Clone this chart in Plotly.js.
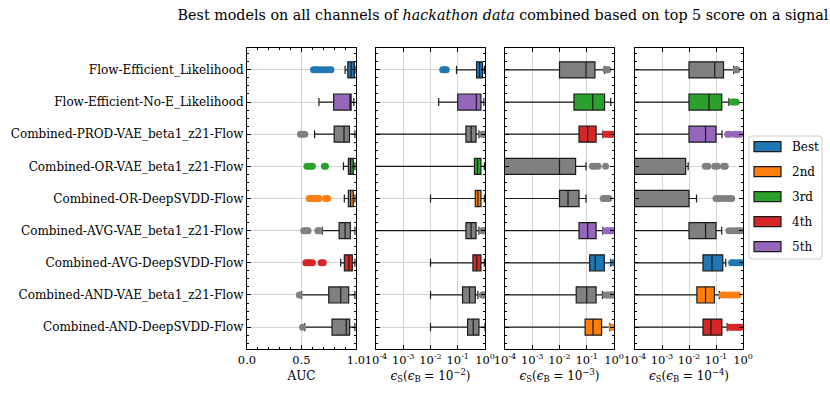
<!DOCTYPE html>
<html><head><meta charset="utf-8">
<script src="https://cdn.plot.ly/plotly-3.0.1.min.js"></script>
<style>html,body{margin:0;padding:0;background:#fff}#chart{width:830px;height:395px}</style>
</head><body><div id="chart"></div>
<script>
// ---------- data ----------
const models = [
  "Flow-Efficient_Likelihood",
  "Flow-Efficient-No-E_Likelihood",
  "Combined-PROD-VAE_beta1_z21-Flow",
  "Combined-OR-VAE_beta1_z21-Flow",
  "Combined-OR-DeepSVDD-Flow",
  "Combined-AVG-VAE_beta1_z21-Flow",
  "Combined-AVG-DeepSVDD-Flow",
  "Combined-AND-VAE_beta1_z21-Flow",
  "Combined-AND-DeepSVDD-Flow"
];
const rankNames = ["Best", "2nd", "3rd", "4th", "5th"];
const rankColors = ["#1f77b4", "#ff7f0e", "#2ca02c", "#d62728", "#9467bd"];
const otherColor = "#808080";

// rank index of each model in each panel (-1 = not in top 5)
const rankAUC = [0, 4, -1, 2, 1, -1, 3, -1, -1];
const rankE2  = [0, 4, -1, 2, 1, -1, 3, -1, -1];
const rankE3  = [-1, 2, 3, -1, -1, 4, 0, -1, 1];
const rankE4  = [-1, 2, 4, -1, -1, -1, 0, 1, 3];

// Panel 1: AUC
const aucLow  = [0.90, 0.66, 0.62, 0.885, 0.893, 0.69, 0.86, 0.50, 0.53];
const aucQ1   = [0.925, 0.795, 0.80, 0.93, 0.93, 0.845, 0.893, 0.75, 0.78];
const aucMed  = [0.955, 0.945, 0.89, 0.95, 0.95, 0.90, 0.935, 0.86, 0.91];
const aucQ3   = [0.985, 0.955, 0.94, 0.975, 0.975, 0.948, 0.966, 0.933, 0.942];
const aucHigh = [0.99, 0.98, 0.99, 0.99, 0.99, 0.99, 0.99, 0.99, 0.99];
const aucOut  = [
  [0.61, 0.63, 0.65, 0.68, 0.71, 0.74, 0.77], [], [0.49, 0.51, 0.53],
  [0.55, 0.57, 0.60, 0.71, 0.72], [0.57, 0.59, 0.61, 0.63, 0.66, 0.72, 0.74],
  [0.52, 0.54, 0.56, 0.65, 0.66], [0.54, 0.56, 0.58, 0.60, 0.68, 0.70], [0.48], [0.51]
];

// Panel 2: eps_S at eps_B = 1e-2
const e2Low  = [0.09, 0.02, 0, 0, 0.01, 0, 0.01, 0.01, 0.01];
const e2Q1   = [0.49, 0.10, 0.20, 0.41, 0.44, 0.20, 0.36, 0.15, 0.23];
const e2Med  = [0.63, 0.48, 0.31, 0.53, 0.55, 0.31, 0.50, 0.27, 0.37];
const e2Q3   = [0.81, 0.71, 0.47, 0.71, 0.71, 0.47, 0.71, 0.44, 0.60];
const e2High = [0.95, 0.91, 0.60, 0.95, 0.95, 0.60, 0.95, 0.55, 1.0];
const e2Out  = [[0.028, 0.033, 0.038], [], [0.8, 0.9, 1.0], [], [], [0.8, 0.9, 1.0], [], [0.8, 0.9, 1.0], []];

// Panel 3: eps_S at eps_B = 1e-3
const e3Low  = [0, 0, 0, 0, 0, 0, 0, 0, 0];
const e3Q1   = [0.01, 0.034, 0.052, 0, 0.01, 0.052, 0.128, 0.041, 0.087];
const e3Med  = [0.094, 0.166, 0.108, 0.01, 0.0205, 0.108, 0.204, 0.10, 0.17];
const e3Q3   = [0.20, 0.45, 0.22, 0.039, 0.052, 0.22, 0.44, 0.22, 0.35];
const e3High = [0.45, 0.76, 0.39, 0.094, 0.094, 0.39, 0.75, 0.38, 0.70];
const e3Out  = [
  [0.5, 0.55, 0.6], [], [0.5, 0.6, 0.7, 0.8, 0.9], [0.16, 0.2, 0.26, 0.49],
  [0.4, 0.48, 0.56, 0.65], [0.5, 0.6, 0.7, 0.8, 0.9], [0.95], [0.5, 0.6, 0.7, 0.8, 0.9], [0.85, 0.95]
];

// Panel 4: eps_S at eps_B = 1e-4
const e4Low  = [0, 0, 0, 0, 0, 0, 0, 0, 0];
const e4Q1   = [0.01, 0.01, 0.01, 0, 0, 0.01, 0.033, 0.0196, 0.033];
const e4Med  = [0.09, 0.055, 0.041, 0, 0, 0.041, 0.071, 0.041, 0.065];
const e4Q3   = [0.19, 0.163, 0.10, 0.0075, 0.01, 0.10, 0.178, 0.087, 0.165];
const e4High = [0.45, 0.30, 0.167, 0.0093, 0.019, 0.163, 0.23, 0.133, 0.26];
const e4Out  = [
  [0.55, 0.6], [0.4, 0.48, 0.56], [0.27, 0.33, 0.5, 0.62, 0.78], [0.04, 0.05, 0.09, 0.11, 0.19, 0.22],
  [0.1, 0.13, 0.17, 0.22, 0.3, 0.38], [0.3, 0.4, 0.55, 0.7, 0.85], [0.38, 0.45, 0.55, 0.7, 0.85],
  [0.17, 0.22, 0.3, 0.4, 0.5, 0.65], [0.33, 0.4, 0.5, 0.6, 0.7, 0.85]
];

const aucTickVals = [0, 0.5, 1];
const aucTickText = ["0.0", "0.5", "1.0"];
const logTickVals = [1e-4, 1e-3, 1e-2, 1e-1, 1];
const logTickText = ["10<sup>-4</sup>", "10<sup>-3</sup>", "10<sup>-2</sup>", "10<sup>-1</sup>", "10<sup>0</sup>"];

// ---------- build ----------
const FONT = "DejaVu Serif";
const panels = [
  {low: aucLow, q1: aucQ1, med: aucMed, q3: aucQ3, high: aucHigh, out: aucOut, rank: rankAUC, log: false},
  {low: e2Low, q1: e2Q1, med: e2Med, q3: e2Q3, high: e2High, out: e2Out, rank: rankE2, log: true},
  {low: e3Low, q1: e3Q1, med: e3Med, q3: e3Q3, high: e3High, out: e3Out, rank: rankE3, log: true},
  {low: e4Low, q1: e4Q1, med: e4Med, q3: e4Q3, high: e4High, out: e4Out, rank: rankE4, log: true}
];
const floorLog = v => Math.max(v, 1e-7);
const traces = [];
panels.forEach((p, pi) => {
  const xa = pi === 0 ? "x" : "x" + (pi + 1);
  const ya = pi === 0 ? "y" : "y" + (pi + 1);
  const fix = p.log ? floorLog : (v => v);
  models.forEach((m, i) => {
    const col = p.rank[i] >= 0 ? rankColors[p.rank[i]] : otherColor;
    traces.push({
      type: "box", orientation: "h", xaxis: xa, yaxis: ya,
      y: [i], q1: [fix(p.q1[i])], median: [fix(p.med[i])], q3: [fix(p.q3[i])],
      lowerfence: [fix(p.low[i])], upperfence: [fix(p.high[i])],
      width: 0.5, whiskerwidth: 0.5, fillcolor: col,
      line: {color: "#1a1a1a", width: 1.2}, boxpoints: false,
      showlegend: false, hoverinfo: "skip"
    });
    if (p.out[i].length) {
      traces.push({
        type: "scatter", mode: "markers", xaxis: xa, yaxis: ya,
        x: p.out[i], y: p.out[i].map(() => i),
        marker: {symbol: "circle", size: 7, color: col, line: {width: 0}},
        showlegend: false, hoverinfo: "skip"
      });
    }
  });
});

const W = 830, H = 395, T = 48, B = 46;
const plotH = H - T - B;
const panelPx = [[247, 356], [376, 485], [505, 614], [635, 743]];
const yRange = [8.68, -0.68];
const axisCommon = {
  showline: true, linecolor: "#000", linewidth: 1, mirror: "allticks",
  ticks: "inside", ticklen: 4, tickwidth: 1, tickcolor: "#000",
  gridcolor: "#d4d4d4", gridwidth: 1, zeroline: false,
  tickfont: {family: FONT, size: 11.5, color: "#000"}
};
const xTitles = ["AUC",
  "<i>ϵ</i><sub>S</sub>(<i>ϵ</i><sub>B</sub> = 10<sup>−2</sup>)",
  "<i>ϵ</i><sub>S</sub>(<i>ϵ</i><sub>B</sub> = 10<sup>−3</sup>)",
  "<i>ϵ</i><sub>S</sub>(<i>ϵ</i><sub>B</sub> = 10<sup>−4</sup>)"];

const layout = {
  width: W, height: H,
  margin: {l: 0, r: 0, t: T, b: B, pad: 0},
  paper_bgcolor: "#fff", plot_bgcolor: "#fff",
  showlegend: false,
  font: {family: FONT, color: "#000"},
  title: {
    text: "Best models on all channels of <i>hackathon data</i> combined based on top 5 score on a signal",
    x: 0.998, xanchor: "right", xref: "paper", y: 1 - 15 / H, yanchor: "middle",
    font: {family: FONT, size: 14.3, color: "#000"}
  },
  shapes: [], annotations: []
};

panels.forEach((p, pi) => {
  const xk = pi === 0 ? "xaxis" : "xaxis" + (pi + 1);
  const yk = pi === 0 ? "yaxis" : "yaxis" + (pi + 1);
  const xa = pi === 0 ? "x" : "x" + (pi + 1);
  layout[xk] = Object.assign({}, axisCommon, {
    domain: [panelPx[pi][0] / W, panelPx[pi][1] / W],
    anchor: pi === 0 ? "y" : "y" + (pi + 1),
    type: p.log ? "log" : "linear",
    range: p.log ? [-4, 0] : [0, 1],
    tickvals: p.log ? logTickVals : aucTickVals,
    ticktext: p.log ? logTickText : aucTickText,
    showgrid: true,
    title: {text: xTitles[pi], font: {family: FONT, size: 12, color: "#000"}, standoff: 5}
  });
  if (!p.log) layout[xk].minor = {ticks: "inside", ticklen: 2, tickcolor: "#000", dtick: 0.1, showgrid: false};
  layout[yk] = Object.assign({}, axisCommon, {
    domain: [0, 1], anchor: xa, range: yRange, autorange: false,
    tickvals: models.map((_, i) => i), ticktext: models,
    showticklabels: pi === 0, showgrid: true,
    tickfont: {family: FONT, size: 12, color: "#000"},
    minor: {ticks: "inside", ticklen: 2, tickcolor: "#000", dtick: 0.25, tick0: 0, showgrid: false}
  });
});

// legend (drawn as layout decorations from rankNames / rankColors)
const px2x = v => v / W, py2y = v => (H - B - v) / plotH;
function roundRect(x0, y0, x1, y1, r) {
  const X = px2x, Y = py2y;
  return `M${X(x0 + r)},${Y(y0)} L${X(x1 - r)},${Y(y0)} Q${X(x1)},${Y(y0)} ${X(x1)},${Y(y0 + r)} ` +
    `L${X(x1)},${Y(y1 - r)} Q${X(x1)},${Y(y1)} ${X(x1 - r)},${Y(y1)} L${X(x0 + r)},${Y(y1)} ` +
    `Q${X(x0)},${Y(y1)} ${X(x0)},${Y(y1 - r)} L${X(x0)},${Y(y0 + r)} Q${X(x0)},${Y(y0)} ${X(x0 + r)},${Y(y0)} Z`;
}
layout.shapes.push({type: "path", xref: "paper", yref: "paper",
  path: roundRect(749, 136, 822, 259, 3),
  line: {color: "#cccccc", width: 1}, fillcolor: "rgba(255,255,255,0.8)", layer: "above"});
rankNames.forEach((nm, k) => {
  const cy = 146.7 + k * 25;
  layout.shapes.push({type: "rect", xref: "paper", yref: "paper",
    x0: px2x(754), x1: px2x(781), y0: py2y(cy + 5), y1: py2y(cy - 5),
    line: {color: "#1a1a1a", width: 1.2}, fillcolor: rankColors[k], layer: "above"});
  layout.annotations.push({xref: "paper", yref: "paper", x: px2x(790), y: py2y(cy),
    xanchor: "left", yanchor: "middle", showarrow: false, text: nm,
    font: {family: FONT, size: 12, color: "#000"}});
});

Plotly.newPlot("chart", traces, layout, {staticPlot: true, displayModeBar: false});
</script></body></html>
